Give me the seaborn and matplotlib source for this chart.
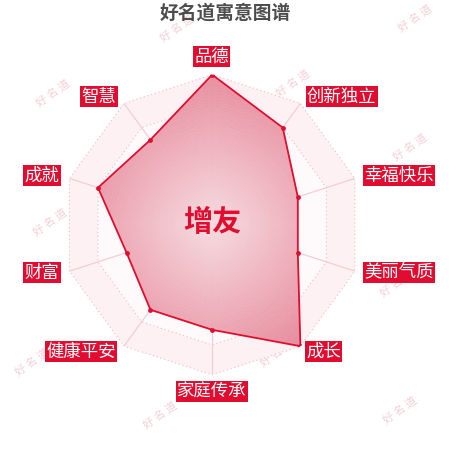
import numpy as np
import matplotlib
import matplotlib.pyplot as plt
import seaborn as sns
from matplotlib.colors import LinearSegmentedColormap

matplotlib.use("agg")

# data
categories = ["品德", "创新独立", "幸福快乐", "美丽气质", "成长",
              "家庭传承", "健康平安", "财富", "成就", "智慧"]
values = [100, 80, 60, 60, 100, 70, 70, 60, 80, 70]
name = "增友"
title = "好名道寓意图谱"
watermark = "好 名 道"

sns.set_theme(style="white")
plt.rcParams['font.family'] = ['Noto Sans CJK SC', 'DejaVu Sans']

RED = "#e00d30"

fig = plt.figure(figsize=(4.5, 4.5), dpi=100)
fig.patch.set_facecolor("white")

# watermarks in figure coords (pixels / 450)
wm_pos = [(177, 28), (415, 18), (53, 93), (293, 83), (410, 147), (50, 222),
          (300, 210), (397, 283), (32, 362), (277, 353), (160, 415), (400, 410)]
for px, py in wm_pos:
    fig.text(px / 450, 1 - py / 450, watermark, fontsize=8, color="#f4d0d6",
             rotation=35, ha="center", va="center", zorder=0)

fig.text(0.5, 1 - 13 / 450, title, fontsize=13.5, fontweight="bold",
         color="#4d4d4d", ha="center", va="center")

ax = fig.add_axes([0.138, 0.167, 0.667, 0.667], projection="polar")
ax.set_zorder(1)
ax.set_facecolor("none")
ax.set_theta_offset(np.pi / 2)
ax.set_theta_direction(-1)
ax.set_ylim(0, 100)
ax.grid(False)
ax.spines["polar"].set_visible(False)
ax.set_xticks([])
ax.set_yticks([])

n = len(categories)
angles = np.linspace(0, 2 * np.pi, n, endpoint=False)
ang_c = np.append(angles, angles[0])

# split area and dotted rings
levels = [20, 40, 60, 80, 100]
for i, lv in enumerate(levels[::-1]):
    shade = "#fdf1f3" if i % 2 == 0 else "#fefafb"
    ax.fill(ang_c, [lv] * (n + 1), color=shade, zorder=1, lw=0)
for lv in levels:
    ax.plot(ang_c, [lv] * (n + 1), color="#f2bcc6", lw=0.8, ls=(0, (1, 2.5)), zorder=2)
for a in angles:
    ax.plot([a, a], [0, 100], color="#f4cdd4", lw=0.9, zorder=2)

# data polygon with radial gradient
vals_c = values + values[:1]
poly = ax.fill(ang_c, vals_c, color="none", lw=0, zorder=3)[0]
cmap = LinearSegmentedColormap.from_list("rg", ["#f6dbe0", "#efb3be", "#e68b9c"])
th = np.linspace(0, 2 * np.pi, 181)
rr = np.linspace(0, 100, 101)
T, R = np.meshgrid(th, rr)
mesh = ax.pcolormesh(T, R, R[:-1, :-1], cmap=cmap, vmin=0, vmax=100,
                     shading="flat", zorder=3, alpha=0.95)
mesh.set_clip_path(poly)
ax.plot(ang_c, vals_c, color=RED, lw=1.3, zorder=4)
ax.scatter(angles, values, s=12, color=RED, zorder=5, lw=0)

# axis labels: centers measured in pixels, converted to polar coordinates
label_px = [(211.5, 57), (341.5, 97), (399, 176), (399, 273), (323.5, 352),
            (211.5, 392), (81, 352), (42, 273), (42, 176), (99, 97)]
cx, cy, rad = 212, 225, 150
for lab, (px, py) in zip(categories, label_px):
    dx, dy = px - cx, cy - py
    t = np.arctan2(dx, dy)
    r = np.hypot(dx, dy) / rad * 100
    ax.text(t, r, lab, fontsize=12.5, color="white", ha="center", va="center",
            zorder=6, clip_on=False,
            bbox=dict(boxstyle="square,pad=0.08", fc=RED, ec="none"))

ax.text(0, 2, name, fontsize=21, fontweight="bold", color=RED,
        ha="center", va="center", zorder=7)

plt.savefig("out.png", dpi=100)
